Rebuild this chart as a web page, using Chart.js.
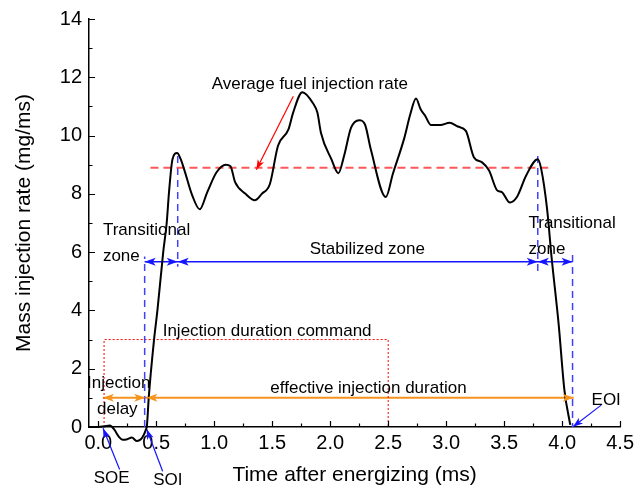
<!DOCTYPE html>
<html>
<head>
<meta charset="utf-8">
<script src="https://cdn.jsdelivr.net/npm/chart.js@4/dist/chart.umd.min.js"></script>
<style>
  html, body { margin: 0; padding: 0; background: #fff; }
  #wrap { width: 638px; height: 492px; }
</style>
</head>
<body>
<div id="wrap"><canvas id="rateChart" width="638" height="492"></canvas></div>
<script>
// measured injection rate trace (time in ms, rate in mg/ms)
const timeMs = [-0.08, 0.0, 0.05, 0.1, 0.14, 0.18, 0.21, 0.25, 0.29, 0.33, 0.36, 0.38, 0.41, 0.42,
  0.435, 0.48, 0.51, 0.56, 0.59, 0.61, 0.64, 0.68, 0.71, 0.74, 0.81, 0.875, 0.94, 1.02, 1.10, 1.14,
  1.18, 1.27, 1.35, 1.41, 1.48, 1.55, 1.64, 1.68, 1.76, 1.85, 1.89, 1.92, 2.01, 2.07, 2.12, 2.18,
  2.25, 2.30, 2.35, 2.48, 2.54, 2.64, 2.69, 2.74, 2.78, 2.82, 2.87, 2.95, 3.03, 3.10, 3.17, 3.24,
  3.31, 3.37, 3.44, 3.48, 3.55, 3.61, 3.69, 3.79, 3.82, 3.87, 3.91, 3.97, 4.02, 4.07];
const rateMgMs = [0, 0, 0.02, 0.05, -0.1, -0.35, -0.44, -0.42, -0.36, -0.48, -0.44, -0.36, -0.1, 0.07,
  1.0, 2.96, 4.0, 6.0, 7.0, 8.06, 9.19, 9.40, 9.2, 8.85, 7.95, 7.47, 8.06, 8.74, 9.0, 8.95,
  8.40, 8.0, 7.78, 8.0, 8.34, 9.65, 10.21, 10.78, 11.49, 11.12, 10.78, 10.1, 9.19, 8.71, 9.31, 10.27,
  10.53, 10.38, 9.53, 7.89, 8.68, 9.93, 10.72, 11.27, 10.9, 10.67, 10.36, 10.36, 10.44, 10.31, 10.16, 9.25,
  9.08, 8.80, 8.12, 8.06, 7.70, 7.89, 8.63, 9.19, 8.85, 7.49, 5.79, 3.53, 1.26, 0.07];

const avgRate = 8.9;
const avgSpan = [0.45, 3.88];
const zoneEdges = [0.40, 0.685, 3.79, 4.09];   // transitional / stabilized / transitional
const delayEdges = [0.04, 0.41, 4.10];         // SOE, SOI, EOI on the orange line
const commandSpan = [0.05, 2.5];
const commandLevel = 3;
const xTicks = [0, 0.5, 1.0, 1.5, 2.0, 2.5, 3.0, 3.5, 4.0, 4.5];
const yTicks = [0, 2, 4, 6, 8, 10, 12, 14];

const FONT = '"Liberation Sans", Arial, sans-serif';
const BLUE = '#1515ff';
const ORANGE = '#f7941d';

function seg(points, color, width, dash) {
  return {
    data: points.map(p => ({ x: p[0], y: p[1] })),
    borderColor: color, borderWidth: width, borderDash: dash || [],
    pointRadius: 0, fill: false, tension: 0, clip: false
  };
}

const zoneY = 5.67, orangeY = 1.0;

const datasets = [
  {
    data: timeMs.map((t, i) => ({ x: t, y: rateMgMs[i] })),
    borderColor: '#000', borderWidth: 2, pointRadius: 0, fill: false,
    cubicInterpolationMode: 'monotone', clip: false
  },
  seg([[avgSpan[0], avgRate], [avgSpan[1], avgRate]], 'rgba(255,70,70,0.9)', 2, [8, 5]),
  seg([[zoneEdges[0], 0], [zoneEdges[0], 5.85]], '#4040ff', 1.5, [7, 5]),
  seg([[zoneEdges[1], 9.3], [zoneEdges[1], 5.5]], '#4040ff', 1.5, [7, 5]),
  seg([[zoneEdges[2], 9.3], [zoneEdges[2], 5.35]], '#4040ff', 1.5, [7, 5]),
  seg([[zoneEdges[3], 5.9], [zoneEdges[3], 0]], '#4040ff', 1.5, [7, 5]),
  seg([[commandSpan[0], 0], [commandSpan[0], commandLevel], [commandSpan[1], commandLevel], [commandSpan[1], 0]], '#ff0000', 1, [2, 2]),
  seg([[zoneEdges[0], zoneY], [zoneEdges[3], zoneY]], BLUE, 1.5),
  seg([[delayEdges[0], orangeY], [delayEdges[2], orangeY]], ORANGE, 2),
  seg([[0.184, -1.46], [0.041, -0.04]], BLUE, 1.2),
  seg([[0.555, -1.52], [0.418, -0.08]], BLUE, 1.2),
  seg([[4.337, 0.75], [4.094, 0.01]], BLUE, 1.2),
  seg([[1.682, 11.35], [1.363, 8.83]], '#ff0000', 1.2)
];

function head(ctx, x1, y1, x2, y2, color, len, half) {
  const a = Math.atan2(y2 - y1, x2 - x1);
  ctx.save();
  ctx.translate(x2, y2);
  ctx.rotate(a);
  ctx.fillStyle = color;
  ctx.beginPath();
  ctx.moveTo(0, 0);
  ctx.lineTo(-len, -half);
  ctx.lineTo(-len * 0.75, 0);
  ctx.lineTo(-len, half);
  ctx.closePath();
  ctx.fill();
  ctx.restore();
}

const labels = [
  { text: 'Average fuel injection rate', x: 1.824, y: 11.75, align: 'center' },
  { text: 'Transitional', x: 0.04, y: 6.76, align: 'left' },
  { text: 'zone', x: 0.04, y: 5.85, align: 'left' },
  { text: 'Stabilized zone', x: 2.32, y: 6.08, align: 'center' },
  { text: 'Transitional', x: 3.71, y: 6.98, align: 'left' },
  { text: 'zone', x: 3.71, y: 6.11, align: 'left' },
  { text: 'Injection duration command', x: 1.456, y: 3.30, align: 'center' },
  { text: 'Injection', x: 0.176, y: 1.51, align: 'center' },
  { text: 'delay', x: 0.164, y: 0.60, align: 'center' },
  { text: 'effective injection duration', x: 2.33, y: 1.32, align: 'center' },
  { text: 'EOI', x: 4.38, y: 0.92, align: 'center' },
  { text: 'SOE', x: 0.116, y: -1.75, align: 'center' },
  { text: 'SOI', x: 0.60, y: -1.83, align: 'center' }
];

const overlay = {
  id: 'overlay',
  afterDatasetsDraw(chart) {
    const { ctx, scales: { x, y } } = chart;
    const px = v => x.getPixelForValue(v);
    const py = v => y.getPixelForValue(v);
    ctx.save();

    // inward ticks, major + minor
    ctx.strokeStyle = '#000';
    ctx.lineWidth = 1.2;
    ctx.beginPath();
    for (let v = 0; v <= 4.5 + 1e-9; v += 0.25) {
      const major = Math.abs(v / 0.5 - Math.round(v / 0.5)) < 1e-6;
      const X = Math.round(px(v)) + 0.5;
      ctx.moveTo(X, y.bottom);
      ctx.lineTo(X, y.bottom - (major ? 6 : 3.5));
    }
    for (let v = 0; v <= 14; v += 1) {
      const Y = Math.round(py(v)) + 0.5;
      ctx.moveTo(x.left, Y);
      ctx.lineTo(x.left + (v % 2 === 0 ? 6 : 3.5), Y);
    }
    ctx.stroke();

    // zone arrows
    for (let i = 0; i < zoneEdges.length - 1; i++) {
      const a = px(zoneEdges[i]), b = px(zoneEdges[i + 1]), Y = py(zoneY);
      head(ctx, b, Y, a, Y, BLUE, 11, 4);
      head(ctx, a, Y, b, Y, BLUE, 11, 4);
    }
    // orange arrows
    const oy = py(orangeY);
    head(ctx, px(0.40), oy, px(delayEdges[0]), oy, ORANGE, 11, 4);
    head(ctx, px(delayEdges[0]), oy, px(0.405), oy, ORANGE, 11, 4);
    head(ctx, px(4.10), oy, px(0.415), oy, ORANGE, 11, 4);
    head(ctx, px(0.415), oy, px(delayEdges[2]), oy, ORANGE, 11, 4);

    // pointer arrows
    head(ctx, px(0.184), py(-1.46), px(0.041), py(-0.04), BLUE, 10, 3.5);
    head(ctx, px(0.555), py(-1.52), px(0.418), py(-0.08), BLUE, 10, 3.5);
    head(ctx, px(4.337), py(0.75), px(4.094), py(0.01), BLUE, 10, 3.5);
    head(ctx, px(1.682), py(11.35), px(1.363), py(8.83), '#ff0000', 10, 3.5);

    // texts
    ctx.fillStyle = '#000';
    ctx.font = '17px ' + FONT;
    ctx.textBaseline = 'middle';
    labels.forEach(l => {
      ctx.textAlign = l.align;
      ctx.fillText(l.text, px(l.x), py(l.y));
    });
    ctx.restore();
  }
};

new Chart(document.getElementById('rateChart'), {
  type: 'line',
  data: { datasets },
  options: {
    responsive: false,
    animation: false,
    devicePixelRatio: 1,
    layout: { padding: { left: 0, top: 16, right: 14, bottom: 0 } },
    plugins: { legend: { display: false }, tooltip: { enabled: false } },
    scales: {
      x: {
        type: 'linear', min: -0.08, max: 4.5,
        grid: { display: false, drawTicks: false },
        border: { display: true, color: '#000', width: 1.5 },
        afterBuildTicks: s => { s.ticks = xTicks.map(v => ({ value: v })); },
        afterFit: s => { s.height = 65; },
        ticks: { color: '#000', padding: 4, maxRotation: 0, autoSkip: false,
          font: { family: FONT, size: 20 }, callback: v => Number(v).toFixed(1) },
        title: { display: true, text: 'Time after energizing (ms)', color: '#000',
          font: { family: FONT, size: 21 }, padding: { top: 0, bottom: 4 } }
      },
      y: {
        type: 'linear', min: 0, max: 14,
        grid: { display: false, drawTicks: false },
        border: { display: true, color: '#000', width: 1.5 },
        afterBuildTicks: s => { s.ticks = yTicks.map(v => ({ value: v })); },
        afterFit: s => { s.width = 89; },
        ticks: { color: '#000', padding: 7, font: { family: FONT, size: 20 } },
        title: { display: true, text: 'Mass injection rate (mg/ms)', color: '#000',
          font: { family: FONT, size: 21 }, padding: { top: 12, bottom: 0 } }
      }
    }
  },
  plugins: [overlay]
});
</script>
</body>
</html>
